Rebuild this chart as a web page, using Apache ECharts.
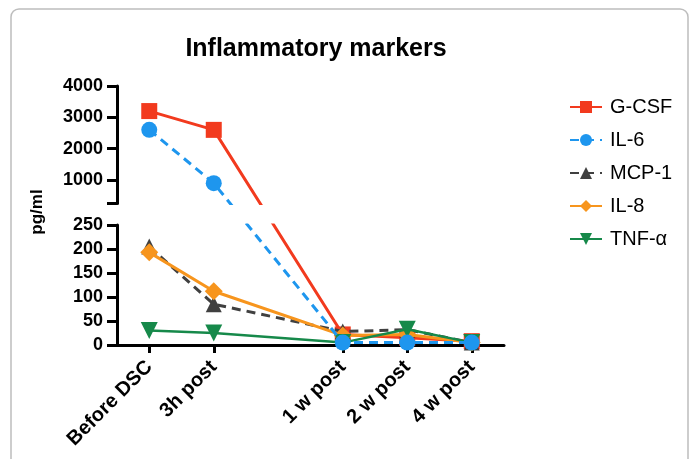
<!DOCTYPE html>
<html>
<head>
<meta charset="utf-8">
<script src="https://cdn.jsdelivr.net/npm/echarts@6/dist/echarts.min.js"></script>
<style>html,body{margin:0;padding:0;background:#fff}#c{width:694px;height:459px}</style>
</head>
<body>
<div id="c"></div>
<script>
// ---- data ----
const categories = ['Before DSC', '3h post', '1 w post', '2 w post', '4 w post'];
const gcsf = [3200, 2600, 22, 15, 8];
const il6 = [2600, 900, 5, 5, 5];
const mcp1 = [205, 85, 28, 32, 5];
const il8 = [193, 112, 20, 22, 5];
const tnfa = [30, 25, 5, 33, 5];
const seriesNames = ['G-CSF', 'IL-6', 'MCP-1', 'IL-8', 'TNF-\u03b1'];
const topTickLabels = [1000, 2000, 3000, 4000];
const bottomTickLabels = [0, 50, 100, 150, 200, 250];

// ---- layout of the broken y axis ----
const FONT = 'Liberation Sans, Arial, sans-serif';
const gridLeft = 117, gridRight = 190;
const topGrid = {top: 86, height: 117.5};
const botGrid = {top: 225, height: 120};
const lowRange = [0, 250], highRange = [250, 4000];
const pxPerLow = botGrid.height / (lowRange[1] - lowRange[0]);
const pxPerHigh = topGrid.height / (highRange[1] - highRange[0]);
const gapPx = botGrid.top - (topGrid.top + topGrid.height);
// continuous "screen" scale of the broken axis (in low-segment units)
function brokenScale(v) {
  if (v <= lowRange[1]) return v;
  return lowRange[1] + gapPx / pxPerLow + (v - highRange[0]) * pxPerHigh / pxPerLow;
}
const hiMin = brokenScale(highRange[0] + 1e-9), hiMax = brokenScale(highRange[1]);

// x axis has a blank slot between '3h post' and '1 w post'
const axisCats = [categories[0], categories[1], '', categories[2], categories[3], categories[4]];
function toAxisData(arr) {
  const out = [arr[0], arr[1], null, arr[2], arr[3], arr[4]];
  return out.map(v => v == null ? null : brokenScale(v));
}

const styles = [
  {color: '#F23A1E', symbol: 'rect', size: 16, type: 'solid', width: 3, z: 2},
  {color: '#1E96EE', symbol: 'circle', size: 16, type: [9, 6], width: 3, z: 6},
  {color: '#404040', symbol: 'triangle', size: 16, type: [9, 6], width: 3, z: 3},
  {color: '#F7951D', symbol: 'diamond', size: 18, type: 'solid', width: 3, z: 4},
  {color: '#16894A', symbol: 'triangle', size: 17, type: 'solid', width: 2.5, z: 5, rotate: 180}
];
const dataSets = [gcsf, il6, mcp1, il8, tnfa];

const series = [];
dataSets.forEach((d, i) => {
  const s = styles[i];
  [[0, 1], [1, 2]].forEach(([xi, yi]) => {
    series.push({
      name: seriesNames[i],
      type: 'line',
      xAxisIndex: xi,
      yAxisIndex: yi,
      data: toAxisData(d),
      connectNulls: true,
      clip: true,
      symbol: s.symbol,
      symbolSize: s.size,
      symbolRotate: s.rotate || 0,
      z: s.z,
      itemStyle: {color: s.color, opacity: 1},
      lineStyle: {color: s.color, width: s.width, type: s.type},
      emphasis: {disabled: true},
      animation: false
    });
  });
});

const axisLineStyle = {color: '#000', width: 3};
const labelStyle = {color: '#000', fontFamily: FONT, fontWeight: 'bold', fontSize: 18};

const option = {
  animation: false,
  backgroundColor: '#fff',
  title: {
    text: 'Inflammatory markers',
    left: 311, top: 32, textAlign: 'center',
    textStyle: {fontFamily: FONT, fontWeight: 'bold', fontSize: 25, color: '#000'}
  },
  legend: {
    orient: 'vertical',
    left: 564, top: 92,
    itemWidth: 32, itemHeight: 15, itemGap: 13,
    data: seriesNames,
    textStyle: {fontFamily: FONT, fontSize: 20, color: '#000', padding: [0, 0, 0, 3]}
  },
  graphic: [
    {type: 'rect', shape: {x: 11, y: 9, width: 677, height: 480, r: 8},
     style: {fill: 'none', stroke: '#bdbdbd', lineWidth: 1.5}, silent: true},
    {type: 'text', x: 37, y: 212, rotation: Math.PI / 2,
     style: {text: 'pg/ml', fontFamily: FONT, fontWeight: 'bold', fontSize: 17, fill: '#000',
             textAlign: 'center', textVerticalAlign: 'middle'}}
  ],
  grid: [
    {left: gridLeft, right: gridRight, top: topGrid.top, height: topGrid.height},
    {left: gridLeft, right: gridRight, top: botGrid.top, height: botGrid.height}
  ],
  xAxis: [
    {gridIndex: 0, type: 'category', data: axisCats, show: false},
    {gridIndex: 1, type: 'category', data: axisCats,
     axisLine: {show: true, lineStyle: axisLineStyle},
     axisTick: {show: true, alignWithLabel: true, length: 8, lineStyle: {color: '#000', width: 3},
                interval: (idx, val) => val !== ''},
     axisLabel: Object.assign({}, labelStyle, {rotate: 45, margin: 19, fontSize: 20, interval: 0}),
     splitLine: {show: false}}
  ],
  yAxis: [
    {gridIndex: 0, type: 'value', min: highRange[0], max: highRange[1],
     axisLine: {show: true, lineStyle: axisLineStyle},
     axisTick: {show: true, length: 10, lineStyle: {color: '#000', width: 3},
                customValues: [highRange[0]].concat(topTickLabels)},
     axisLabel: Object.assign({margin: 14, customValues: topTickLabels, formatter: v => String(v)}, labelStyle),
     splitLine: {show: false}},
    {gridIndex: 0, type: 'value', min: hiMin, max: hiMax, show: false, splitLine: {show: false}},
    {gridIndex: 1, type: 'value', min: lowRange[0], max: lowRange[1], interval: 50,
     axisLine: {show: true, lineStyle: axisLineStyle},
     axisTick: {show: true, length: 10, lineStyle: {color: '#000', width: 3}},
     axisLabel: Object.assign({margin: 14, formatter: v => String(v)}, labelStyle),
     splitLine: {show: false}}
  ],
  series: series
};

const chart = echarts.init(document.getElementById('c'), null, {renderer: 'canvas'});
chart.setOption(option);
</script>
</body>
</html>
